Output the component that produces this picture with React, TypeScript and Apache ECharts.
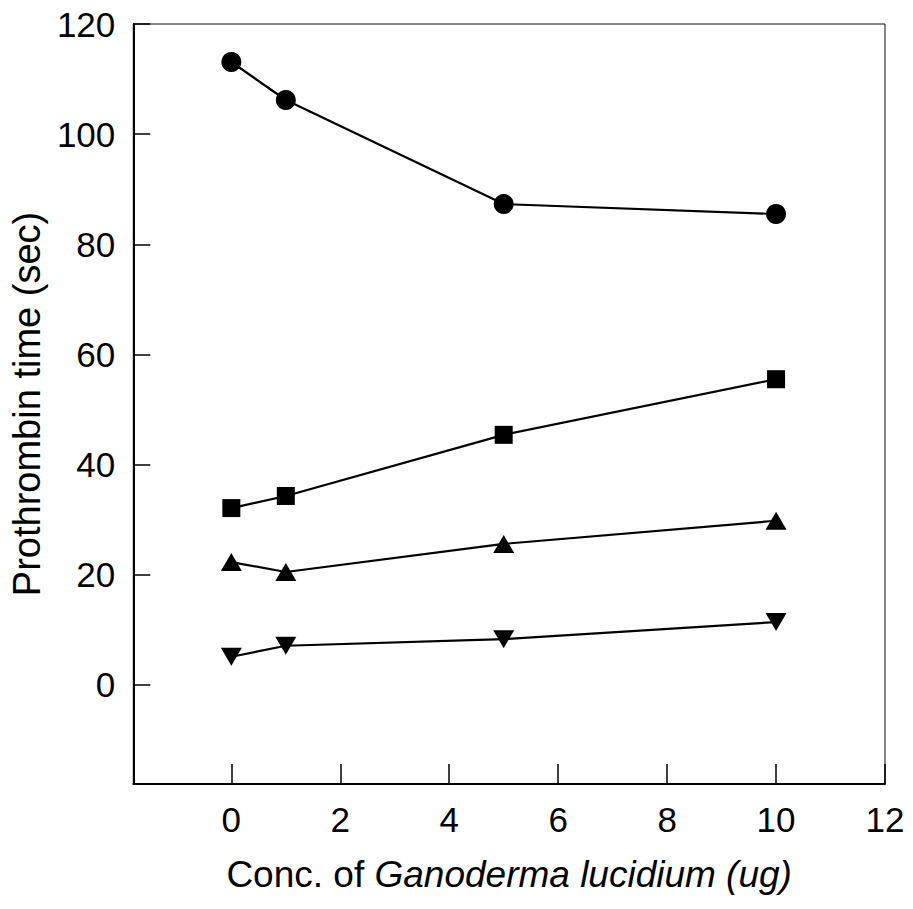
import React, { useEffect, useRef } from "react";
import * as echarts from "echarts";

// Concentration of Ganoderma lucidium (ug)
const concentrations = [0, 1, 5, 10];
// Prothrombin time (sec) for each measured group
const circleSeries = [113.1, 106.2, 87.3, 85.5];
const squareSeries = [32.1, 34.3, 45.4, 55.5];
const triangleUpSeries = [22.3, 20.5, 25.6, 29.8];
const triangleDownSeries = [5.1, 7.1, 8.3, 11.4];

const xTicks = [0, 2, 4, 6, 8, 10, 12];
const yTicks = [0, 20, 40, 60, 80, 100, 120];

const FONT = "'Liberation Sans', Arial, sans-serif";

function pairs(values: number[]) {
  return concentrations.map((c, i) => [c, values[i]]);
}

export default function App() {
  const ref = useRef<HTMLDivElement>(null);

  useEffect(() => {
    if (!ref.current) return;
    const chart = echarts.init(ref.current, null, { renderer: "svg" });

    const line = (
      name: string,
      values: number[],
      symbol: string,
      size: number | number[],
      rotate = 0
    ) => ({
      name,
      type: "line",
      data: pairs(values),
      symbol,
      symbolSize: size,
      symbolRotate: rotate,
      showSymbol: true,
      lineStyle: { color: "#000", width: 2.2 },
      itemStyle: { color: "#000", borderColor: "#000", borderWidth: 0 },
      z: 3,
    });

    chart.setOption({
      animation: false,
      backgroundColor: "#fff",
      grid: {
        left: 131,
        top: 24,
        right: 28,
        bottom: 125,
        show: true,
        borderColor: "#111",
        borderWidth: 1,
        backgroundColor: "transparent",
      },
      xAxis: {
        type: "value",
        min: -1.8,
        max: 12,
        name: "{n|Conc. of }{i|Ganoderma lucidium (ug)}",
        nameLocation: "middle",
        nameGap: 72,
        nameTextStyle: {
          rich: {
            n: { fontFamily: FONT, fontSize: 37, color: "#000" },
            i: { fontFamily: FONT, fontSize: 37, fontStyle: "italic", color: "#000" },
          },
        },
        axisLine: { show: true, onZero: false, lineStyle: { color: "#000", width: 2 } },
        axisTick: {
          show: true,
          inside: true,
          length: 20,
          customValues: xTicks,
          lineStyle: { color: "#000", width: 1.5 },
        },
        axisLabel: {
          customValues: xTicks,
          fontFamily: FONT,
          fontSize: 35,
          color: "#000",
          margin: 18,
        },
        splitLine: { show: false },
      },
      yAxis: {
        type: "value",
        min: -18,
        max: 120,
        name: "Prothrombin time (sec)",
        nameLocation: "middle",
        nameGap: 87,
        nameTextStyle: { fontFamily: FONT, fontSize: 38, color: "#000" },
        axisLine: { show: true, onZero: false, lineStyle: { color: "#000", width: 2 } },
        axisTick: {
          show: true,
          inside: true,
          length: 17,
          customValues: yTicks,
          lineStyle: { color: "#000", width: 1.5 },
        },
        axisLabel: {
          customValues: yTicks,
          fontFamily: FONT,
          fontSize: 35,
          color: "#000",
          margin: 18,
        },
        splitLine: { show: false },
      },
      series: [
        line("circle", circleSeries, "circle", 20),
        line("square", squareSeries, "rect", 18),
        line("triangle-up", triangleUpSeries, "triangle", [21, 18]),
        line("triangle-down", triangleDownSeries, "triangle", [21, 18], 180),
      ],
    });

    return () => chart.dispose();
  }, []);

  return <div ref={ref} style={{ width: 913, height: 909, margin: -8 }} />;
}
